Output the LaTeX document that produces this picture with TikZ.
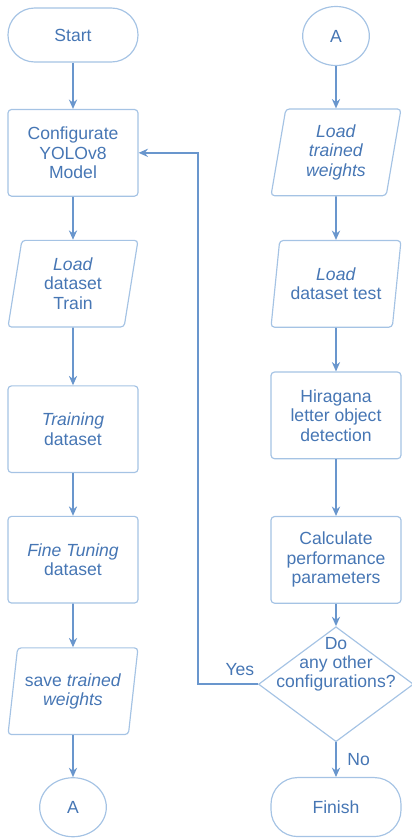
\documentclass[tikz,border=0pt]{standalone}
\usepackage{fontspec}
\setmainfont{Liberation Sans}
\usetikzlibrary{shapes.geometric, arrows.meta, positioning}
\definecolor{flowline}{RGB}{105,150,205}
\definecolor{flowedge}{RGB}{165,195,228}
\definecolor{flowtext}{RGB}{70,118,180}

\begin{document}
\begin{tikzpicture}[
        >={Stealth[length=8pt, width=7pt]},
        font=\fontsize{15}{16.6}\selectfont,
        every node/.append style={text=flowtext},
        box/.style={draw=flowedge, line width=1pt, rectangle, rounded corners=3pt, minimum width=3.9cm, minimum height=2.6cm, align=center},
        io/.style={draw=flowedge, line width=1pt, trapezium, trapezium left angle=75, trapezium right angle=105, trapezium stretches body, rounded corners=3pt, inner sep=0pt, minimum width=3.9cm, minimum height=2.6cm, align=center},
        terminal/.style={draw=flowedge, line width=1pt, rectangle, rounded corners=0.8cm, minimum width=3.9cm, minimum height=1.77cm, align=center},
        connector/.style={draw=flowedge, line width=1pt, ellipse, minimum width=2cm, minimum height=1.77cm},
        decision/.style={draw=flowedge, line width=1pt, diamond, minimum width=4.65cm, minimum height=3.45cm},
        flow/.style={->, draw=flowline, line width=1.5pt},
    ]
    \useasboundingbox (0,0) rectangle (12.36,-25.14);

    % Left column: training
    \node[terminal, minimum height=1.62cm] (start) at (2.19,-1.05) {Start};
    \node[box, below=1.39cm of start] (config) {Configurate\\YOLOv8\\Model};
    \node[io, below=1.29cm of config] (loadtrain) {\textit{Load}\\dataset\\Train};
    \node[box, below=1.73cm of loadtrain] (training) {\textit{Training}\\dataset};
    \node[box, below=1.28cm of training] (finetune) {\textit{Fine Tuning}\\dataset};
    \node[io, below=1.31cm of finetune] (savew) {save \textit{trained}\\\textit{weights}};
    \node[connector, below=1.26cm of savew] (aout) {A};

    % Right column: testing
    \node[connector] (ain) at (10.08,-1.08) {A};
    \node[io, below=1.27cm of ain] (loadw) {\textit{Load}\\\textit{trained}\\\textit{weights}};
    \node[io, below=1.31cm of loadw] (loadtest) {\textit{Load}\\dataset test};
    \node[box, below=1.31cm of loadtest] (detect) {Hiragana\\letter object\\detection};
    \node[box, below=1.70cm of detect] (calc) {Calculate\\performance\\parameters};
    \node[decision, below=0.67cm of calc, label={[align=center, yshift=0.6cm]center:Do\\any other\\configurations?}] (check) {};
    \node[terminal, below=1.04cm of check] (finish) {Finish};

    % Edges
    \draw[flow] (start) -- (config);
    \draw[flow] (config) -- (loadtrain);
    \draw[flow] (loadtrain) -- (training);
    \draw[flow] (training) -- (finetune);
    \draw[flow] (finetune) -- (savew);
    \draw[flow] (savew) -- (aout);

    \draw[flow] (ain) -- (loadw);
    \draw[flow] (loadw) -- (loadtest);
    \draw[flow] (loadtest) -- (detect);
    \draw[flow] (detect) -- (calc);
    \draw[flow] (calc) -- (check);
    \draw[flow] (check) -- node[right, xshift=0.2cm] {No} (finish);

    % Loop back for another configuration
    \draw[flow] (check.west) -- node[above, pos=0.3, yshift=0.1cm] {Yes} ++(-1.8,0) |- (config.east);

\end{tikzpicture}
\end{document}
